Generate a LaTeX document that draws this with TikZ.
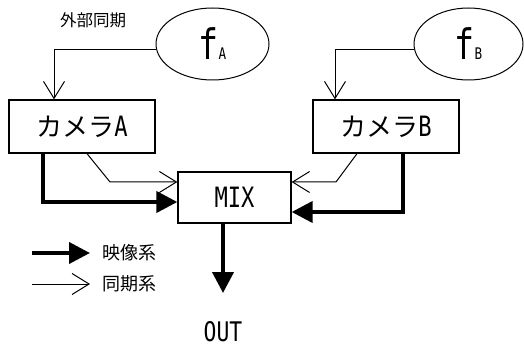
\documentclass[tikz,border=0pt]{standalone}
\usepackage{fontspec}
\usetikzlibrary{arrows.meta,shapes.geometric}
\newfontfamily\jpfont{Noto Sans CJK JP}
\newfontfamily\latfont[FakeStretch=0.79]{DejaVu Sans Mono}
\newcommand{\jpsz}[1]{\jpfont\fontsize{#1}{#1}\selectfont}
\newcommand{\latsz}[1]{\latfont\fontsize{#1}{#1}\selectfont}
\begin{document}
\begin{tikzpicture}[x=1pt,y=-1pt,
  box/.style={draw,line width=1.3pt,inner sep=0pt,minimum width=146pt,minimum height=53pt},
  oval/.style={draw,ellipse,line width=1pt,inner sep=0pt,minimum height=72pt},
  sync/.style={line width=1pt,-{Straight Barb[length=17pt,width=21pt,line width=1pt]}},
  video/.style={line width=4pt,-{Triangle[length=21pt,width=21pt]}},
  lbl/.style={inner sep=0pt}]
\useasboundingbox (0,0) rectangle (524,347);
% nodes
\node[box] (camA) at (82,126.5) {\jpsz{26}カメラ\latsz{28}A};
\node[box] (camB) at (386,126.5) {\jpsz{26}カメラ\latsz{28}B};
\node[box,minimum width=113pt,minimum height=51pt] (mix) at (234.5,197.5) {\latsz{28}MIX};
\node[oval,minimum width=113pt] (elA) at (212.5,44) {\latsz{42}f\latsz{16}A};
\node[oval,minimum width=109pt] (elB) at (468.5,44) {\latsz{42}f\latsz{16}B};
\node[lbl] (ext) at (93,20) {\jpsz{16.5}外部同期};
\node[lbl,anchor=base] (out) at (223,341.5) {\latsz{27}OUT};
% sync lines from oscillators
\draw[sync] (elA.186) -| ([xshift=-28pt]camA.north);
\draw[sync] (elB.186) -| ([xshift=-51pt]camB.north);
% camera A to mix
\coordinate (a1) at (110,182);
\draw[sync] ([xshift=5pt]camA.south) -- (a1) -- (a1 -| mix.west);
\draw[video] ([xshift=-39pt]camA.south) |- ([yshift=-4.5pt]mix.west);
% camera B to mix
\coordinate (b1) at (336,182);
\draw[sync] ([xshift=-29pt]camB.south) -- (b1) -- (b1 -| mix.east);
\draw[video] ([xshift=17pt]camB.south) |- ([yshift=-14.5pt]mix.east);
% output
\coordinate (outtip) at (223,293);
\draw[video] ([xshift=-11.5pt]mix.south) -- (outtip);
% legend
\coordinate (l1s) at (32,253);
\coordinate (l1e) at (90,253);
\coordinate (l2s) at (32,284);
\coordinate (l2e) at (90,284);
\draw[video] (l1s) -- (l1e);
\draw[sync] (l2s) -- (l2e);
\node[lbl,anchor=west] (leg1) at (102,253) {\jpsz{18}映像系};
\node[lbl,anchor=west] (leg2) at (102,284) {\jpsz{18}同期系};
\end{tikzpicture}
\end{document}
